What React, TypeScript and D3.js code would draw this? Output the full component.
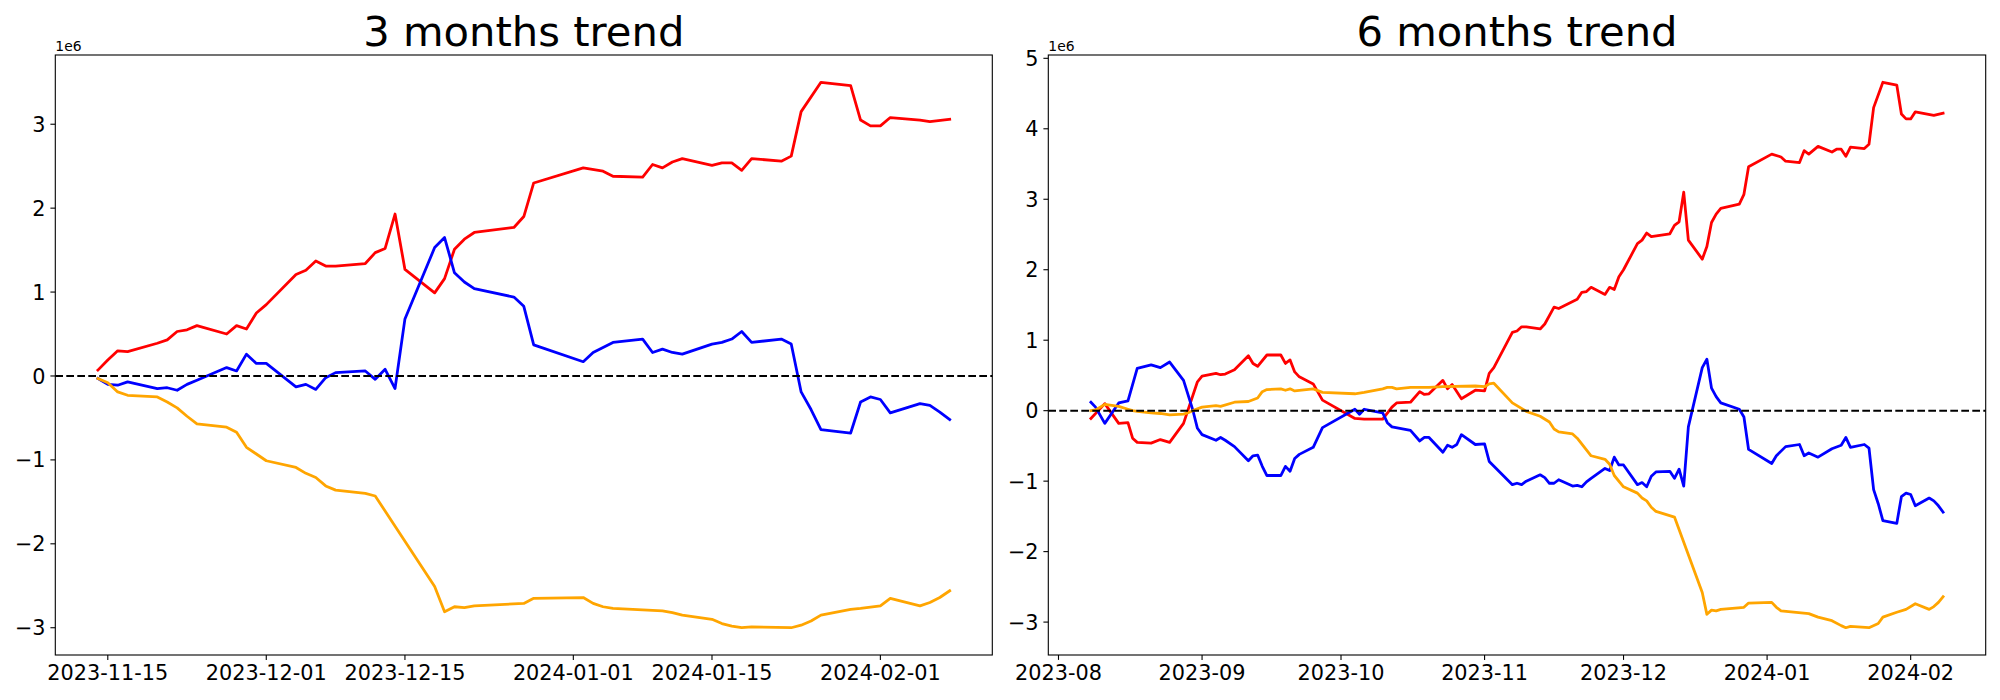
import * as d3 from "d3";
import { useEffect, useRef } from "react";

type Pt = [string, number];

// values in units of 1e6
const red3m: Pt[] = [
  ["2023-11-14", 0.07], ["2023-11-15", 0.19], ["2023-11-16", 0.3], ["2023-11-17", 0.29],
  ["2023-11-20", 0.39], ["2023-11-21", 0.43], ["2023-11-22", 0.53], ["2023-11-23", 0.55],
  ["2023-11-24", 0.6], ["2023-11-27", 0.5], ["2023-11-28", 0.6], ["2023-11-29", 0.56],
  ["2023-11-30", 0.75], ["2023-12-01", 0.85], ["2023-12-04", 1.21], ["2023-12-05", 1.26],
  ["2023-12-06", 1.37], ["2023-12-07", 1.31], ["2023-12-08", 1.31], ["2023-12-11", 1.34],
  ["2023-12-12", 1.47], ["2023-12-13", 1.52], ["2023-12-14", 1.93], ["2023-12-15", 1.27],
  ["2023-12-18", 0.99], ["2023-12-19", 1.16], ["2023-12-20", 1.51], ["2023-12-21", 1.63],
  ["2023-12-22", 1.71], ["2023-12-26", 1.77], ["2023-12-27", 1.9], ["2023-12-28", 2.3],
  ["2024-01-02", 2.48], ["2024-01-04", 2.44], ["2024-01-05", 2.38], ["2024-01-08", 2.37],
  ["2024-01-09", 2.52], ["2024-01-10", 2.48], ["2024-01-11", 2.55], ["2024-01-12", 2.59],
  ["2024-01-15", 2.51], ["2024-01-16", 2.54], ["2024-01-17", 2.54], ["2024-01-18", 2.45],
  ["2024-01-19", 2.59], ["2024-01-22", 2.56], ["2024-01-23", 2.62], ["2024-01-24", 3.15],
  ["2024-01-26", 3.5], ["2024-01-29", 3.46], ["2024-01-30", 3.05], ["2024-01-31", 2.98],
  ["2024-02-01", 2.98], ["2024-02-02", 3.08], ["2024-02-05", 3.05], ["2024-02-06", 3.03],
  ["2024-02-08", 3.06],
];

const blue3m: Pt[] = [
  ["2023-11-14", -0.03], ["2023-11-15", -0.1], ["2023-11-16", -0.11], ["2023-11-17", -0.07],
  ["2023-11-20", -0.15], ["2023-11-21", -0.14], ["2023-11-22", -0.17], ["2023-11-23", -0.1],
  ["2023-11-24", -0.05], ["2023-11-27", 0.1], ["2023-11-28", 0.06], ["2023-11-29", 0.26],
  ["2023-11-30", 0.15], ["2023-12-01", 0.15], ["2023-12-04", -0.13], ["2023-12-05", -0.1],
  ["2023-12-06", -0.16], ["2023-12-07", -0.02], ["2023-12-08", 0.04], ["2023-12-11", 0.06],
  ["2023-12-12", -0.04], ["2023-12-13", 0.08], ["2023-12-14", -0.15], ["2023-12-15", 0.68],
  ["2023-12-18", 1.53], ["2023-12-19", 1.65], ["2023-12-20", 1.23], ["2023-12-21", 1.12],
  ["2023-12-22", 1.04], ["2023-12-26", 0.94], ["2023-12-27", 0.83], ["2023-12-28", 0.37],
  ["2024-01-02", 0.17], ["2024-01-03", 0.28], ["2024-01-05", 0.4], ["2024-01-08", 0.44],
  ["2024-01-09", 0.28], ["2024-01-10", 0.32], ["2024-01-11", 0.28], ["2024-01-12", 0.26],
  ["2024-01-15", 0.38], ["2024-01-16", 0.4], ["2024-01-17", 0.44], ["2024-01-18", 0.53],
  ["2024-01-19", 0.4], ["2024-01-22", 0.44], ["2024-01-23", 0.38], ["2024-01-24", -0.19],
  ["2024-01-25", -0.4], ["2024-01-26", -0.64], ["2024-01-29", -0.68], ["2024-01-30", -0.31],
  ["2024-01-31", -0.25], ["2024-02-01", -0.28], ["2024-02-02", -0.44], ["2024-02-05", -0.33],
  ["2024-02-06", -0.35], ["2024-02-07", -0.43], ["2024-02-08", -0.52],
];

const orange3m: Pt[] = [
  ["2023-11-14", -0.03], ["2023-11-15", -0.08], ["2023-11-16", -0.19], ["2023-11-17", -0.23],
  ["2023-11-20", -0.25], ["2023-11-21", -0.31], ["2023-11-22", -0.38], ["2023-11-23", -0.48],
  ["2023-11-24", -0.57], ["2023-11-27", -0.61], ["2023-11-28", -0.67], ["2023-11-29", -0.85],
  ["2023-11-30", -0.93], ["2023-12-01", -1.01], ["2023-12-04", -1.09], ["2023-12-05", -1.16],
  ["2023-12-06", -1.21], ["2023-12-07", -1.31], ["2023-12-08", -1.36], ["2023-12-11", -1.4],
  ["2023-12-12", -1.43], ["2023-12-18", -2.51], ["2023-12-19", -2.81], ["2023-12-20", -2.75],
  ["2023-12-21", -2.76], ["2023-12-22", -2.74], ["2023-12-27", -2.71], ["2023-12-28", -2.65],
  ["2024-01-02", -2.64], ["2024-01-03", -2.71], ["2024-01-04", -2.75], ["2024-01-05", -2.77],
  ["2024-01-10", -2.8], ["2024-01-11", -2.82], ["2024-01-12", -2.85], ["2024-01-15", -2.9],
  ["2024-01-16", -2.95], ["2024-01-17", -2.98], ["2024-01-18", -3.0], ["2024-01-19", -2.99],
  ["2024-01-23", -3.0], ["2024-01-24", -2.97], ["2024-01-25", -2.92], ["2024-01-26", -2.85],
  ["2024-01-29", -2.78], ["2024-01-30", -2.77], ["2024-02-01", -2.74], ["2024-02-02", -2.65],
  ["2024-02-05", -2.74], ["2024-02-06", -2.7], ["2024-02-07", -2.64], ["2024-02-08", -2.56],
];

const red6m: Pt[] = [
  ["2023-08-08", -0.11], ["2023-08-11", 0.1], ["2023-08-14", -0.18], ["2023-08-16", -0.17],
  ["2023-08-17", -0.39], ["2023-08-18", -0.45], ["2023-08-21", -0.46], ["2023-08-23", -0.41],
  ["2023-08-25", -0.45], ["2023-08-28", -0.18], ["2023-08-31", 0.41], ["2023-09-01", 0.49],
  ["2023-09-04", 0.53], ["2023-09-05", 0.51], ["2023-09-06", 0.52], ["2023-09-08", 0.58],
  ["2023-09-11", 0.78], ["2023-09-12", 0.67], ["2023-09-13", 0.63], ["2023-09-15", 0.79],
  ["2023-09-18", 0.79], ["2023-09-19", 0.67], ["2023-09-20", 0.72], ["2023-09-21", 0.55],
  ["2023-09-22", 0.48], ["2023-09-25", 0.38], ["2023-09-27", 0.15], ["2023-10-04", -0.11],
  ["2023-10-06", -0.12], ["2023-10-10", -0.12], ["2023-10-12", 0.05], ["2023-10-13", 0.11],
  ["2023-10-16", 0.12], ["2023-10-18", 0.27], ["2023-10-19", 0.23], ["2023-10-20", 0.24],
  ["2023-10-23", 0.43], ["2023-10-24", 0.31], ["2023-10-25", 0.37], ["2023-10-27", 0.17],
  ["2023-10-30", 0.29], ["2023-11-01", 0.28], ["2023-11-02", 0.53], ["2023-11-03", 0.61],
  ["2023-11-07", 1.11], ["2023-11-08", 1.13], ["2023-11-09", 1.19], ["2023-11-10", 1.19],
  ["2023-11-13", 1.16], ["2023-11-14", 1.23], ["2023-11-16", 1.47], ["2023-11-17", 1.45],
  ["2023-11-21", 1.58], ["2023-11-22", 1.68], ["2023-11-23", 1.69], ["2023-11-24", 1.75],
  ["2023-11-27", 1.65], ["2023-11-28", 1.75], ["2023-11-29", 1.72], ["2023-11-30", 1.9],
  ["2023-12-01", 2.0], ["2023-12-04", 2.37], ["2023-12-05", 2.42], ["2023-12-06", 2.52],
  ["2023-12-07", 2.47], ["2023-12-11", 2.51], ["2023-12-12", 2.63], ["2023-12-13", 2.68],
  ["2023-12-14", 3.1], ["2023-12-15", 2.42], ["2023-12-18", 2.15], ["2023-12-19", 2.33],
  ["2023-12-20", 2.67], ["2023-12-21", 2.79], ["2023-12-22", 2.87], ["2023-12-26", 2.93],
  ["2023-12-27", 3.07], ["2023-12-28", 3.46], ["2024-01-02", 3.64], ["2024-01-04", 3.6],
  ["2024-01-05", 3.54], ["2024-01-08", 3.52], ["2024-01-09", 3.69], ["2024-01-10", 3.64],
  ["2024-01-12", 3.75], ["2024-01-15", 3.67], ["2024-01-16", 3.71], ["2024-01-17", 3.71],
  ["2024-01-18", 3.61], ["2024-01-19", 3.74], ["2024-01-22", 3.72], ["2024-01-23", 3.78],
  ["2024-01-24", 4.3], ["2024-01-26", 4.66], ["2024-01-29", 4.62], ["2024-01-30", 4.21],
  ["2024-01-31", 4.14], ["2024-02-01", 4.14], ["2024-02-02", 4.24], ["2024-02-06", 4.19],
  ["2024-02-08", 4.22],
];

const blue6m: Pt[] = [
  ["2023-08-08", 0.12], ["2023-08-09", 0.05], ["2023-08-11", -0.18], ["2023-08-14", 0.11],
  ["2023-08-16", 0.14], ["2023-08-18", 0.6], ["2023-08-21", 0.65], ["2023-08-23", 0.61],
  ["2023-08-25", 0.69], ["2023-08-28", 0.43], ["2023-08-29", 0.22], ["2023-08-30", 0.01],
  ["2023-08-31", -0.25], ["2023-09-01", -0.34], ["2023-09-04", -0.42], ["2023-09-05", -0.38],
  ["2023-09-06", -0.42], ["2023-09-08", -0.51], ["2023-09-11", -0.71], ["2023-09-12", -0.64],
  ["2023-09-13", -0.63], ["2023-09-14", -0.79], ["2023-09-15", -0.92], ["2023-09-18", -0.92],
  ["2023-09-19", -0.79], ["2023-09-20", -0.86], ["2023-09-21", -0.68], ["2023-09-22", -0.62],
  ["2023-09-25", -0.52], ["2023-09-27", -0.24], ["2023-10-04", 0.02], ["2023-10-05", -0.05],
  ["2023-10-06", 0.02], ["2023-10-10", -0.03], ["2023-10-11", -0.17], ["2023-10-12", -0.23],
  ["2023-10-16", -0.28], ["2023-10-18", -0.43], ["2023-10-19", -0.38], ["2023-10-20", -0.38],
  ["2023-10-23", -0.59], ["2023-10-24", -0.49], ["2023-10-25", -0.52], ["2023-10-26", -0.48],
  ["2023-10-27", -0.34], ["2023-10-30", -0.48], ["2023-11-01", -0.47], ["2023-11-02", -0.72],
  ["2023-11-07", -1.05], ["2023-11-08", -1.03], ["2023-11-09", -1.05], ["2023-11-10", -1.0],
  ["2023-11-13", -0.91], ["2023-11-14", -0.95], ["2023-11-15", -1.03], ["2023-11-16", -1.03],
  ["2023-11-17", -0.98], ["2023-11-20", -1.07], ["2023-11-21", -1.06], ["2023-11-22", -1.08],
  ["2023-11-23", -1.01], ["2023-11-24", -0.96], ["2023-11-27", -0.82], ["2023-11-28", -0.85],
  ["2023-11-29", -0.66], ["2023-11-30", -0.77], ["2023-12-01", -0.77], ["2023-12-04", -1.05],
  ["2023-12-05", -1.02], ["2023-12-06", -1.08], ["2023-12-07", -0.93], ["2023-12-08", -0.87],
  ["2023-12-11", -0.86], ["2023-12-12", -0.96], ["2023-12-13", -0.83], ["2023-12-14", -1.07],
  ["2023-12-15", -0.23], ["2023-12-18", 0.61], ["2023-12-19", 0.73], ["2023-12-20", 0.32],
  ["2023-12-21", 0.2], ["2023-12-22", 0.11], ["2023-12-26", 0.02], ["2023-12-27", -0.09],
  ["2023-12-28", -0.55], ["2024-01-02", -0.75], ["2024-01-03", -0.64], ["2024-01-05", -0.51],
  ["2024-01-08", -0.48], ["2024-01-09", -0.64], ["2024-01-10", -0.6], ["2024-01-12", -0.66],
  ["2024-01-15", -0.54], ["2024-01-17", -0.49], ["2024-01-18", -0.38], ["2024-01-19", -0.52],
  ["2024-01-22", -0.48], ["2024-01-23", -0.53], ["2024-01-24", -1.12], ["2024-01-25", -1.32],
  ["2024-01-26", -1.56], ["2024-01-29", -1.6], ["2024-01-30", -1.22], ["2024-01-31", -1.17],
  ["2024-02-01", -1.19], ["2024-02-02", -1.35], ["2024-02-05", -1.24], ["2024-02-06", -1.28],
  ["2024-02-07", -1.35], ["2024-02-08", -1.44],
];

const orange6m: Pt[] = [
  ["2023-08-08", 0.0], ["2023-08-09", 0.01], ["2023-08-11", 0.09], ["2023-08-14", 0.06],
  ["2023-08-16", 0.02], ["2023-08-17", 0.0], ["2023-08-18", -0.01], ["2023-08-21", -0.03],
  ["2023-08-23", -0.04], ["2023-08-25", -0.06], ["2023-08-28", -0.05], ["2023-08-29", -0.03],
  ["2023-08-30", 0.0], ["2023-09-01", 0.05], ["2023-09-04", 0.07], ["2023-09-05", 0.06],
  ["2023-09-08", 0.12], ["2023-09-11", 0.13], ["2023-09-13", 0.18], ["2023-09-14", 0.27],
  ["2023-09-15", 0.3], ["2023-09-18", 0.31], ["2023-09-19", 0.29], ["2023-09-20", 0.31],
  ["2023-09-21", 0.28], ["2023-09-25", 0.31], ["2023-09-27", 0.26], ["2023-10-04", 0.24],
  ["2023-10-06", 0.26], ["2023-10-10", 0.31], ["2023-10-11", 0.33], ["2023-10-12", 0.33],
  ["2023-10-13", 0.31], ["2023-10-16", 0.33], ["2023-10-18", 0.33], ["2023-10-20", 0.33],
  ["2023-10-23", 0.34], ["2023-10-30", 0.35], ["2023-11-01", 0.34], ["2023-11-02", 0.38],
  ["2023-11-03", 0.39], ["2023-11-07", 0.11], ["2023-11-10", -0.01], ["2023-11-13", -0.08],
  ["2023-11-15", -0.16], ["2023-11-16", -0.26], ["2023-11-17", -0.3], ["2023-11-20", -0.33],
  ["2023-11-21", -0.39], ["2023-11-24", -0.64], ["2023-11-27", -0.69], ["2023-11-28", -0.76],
  ["2023-11-29", -0.92], ["2023-12-01", -1.08], ["2023-12-04", -1.17], ["2023-12-05", -1.24],
  ["2023-12-06", -1.28], ["2023-12-07", -1.37], ["2023-12-08", -1.43], ["2023-12-12", -1.51],
  ["2023-12-18", -2.58], ["2023-12-19", -2.89], ["2023-12-20", -2.83], ["2023-12-21", -2.84],
  ["2023-12-22", -2.82], ["2023-12-27", -2.79], ["2023-12-28", -2.73], ["2024-01-02", -2.72],
  ["2024-01-03", -2.79], ["2024-01-04", -2.84], ["2024-01-10", -2.88], ["2024-01-12", -2.93],
  ["2024-01-15", -2.98], ["2024-01-17", -3.05], ["2024-01-18", -3.08], ["2024-01-19", -3.06],
  ["2024-01-23", -3.08], ["2024-01-25", -3.02], ["2024-01-26", -2.93], ["2024-01-29", -2.86],
  ["2024-01-31", -2.82], ["2024-02-02", -2.74], ["2024-02-05", -2.82], ["2024-02-06", -2.78],
  ["2024-02-07", -2.72], ["2024-02-08", -2.64],
];

const ticks3m = ["2023-11-15", "2023-12-01", "2023-12-15", "2024-01-01", "2024-01-15", "2024-02-01"];
const ticks6m = ["2023-08-01", "2023-09-01", "2023-10-01", "2023-11-01", "2023-12-01", "2024-01-01", "2024-02-01"];
const yTicks3m = [-3, -2, -1, 0, 1, 2, 3];
const yTicks6m = [-3, -2, -1, 0, 1, 2, 3, 4, 5];

const parse = d3.timeParse("%Y-%m-%d");
const FONT = "DejaVu Sans, sans-serif";

interface Panel {
  title: string;
  left: number;
  right: number;
  series: { data: Pt[]; color: string }[];
  xTicks: string[];
  xFmt: string;
  yTicks: number[];
}

function drawPanel(svg: d3.Selection<SVGSVGElement, unknown, null, undefined>, p: Panel) {
  const top = 55;
  const bottom = 655;
  const all = p.series.flatMap(s => s.data);
  const dates = all.map(d => parse(d[0])!.getTime());
  const vals = all.map(d => d[1]);

  // matplotlib-style 5% margins
  const [x0, x1] = d3.extent(dates) as [number, number];
  const [y0, y1] = d3.extent(vals) as [number, number];
  const mx = (x1 - x0) * 0.05;
  const my = (y1 - y0) * 0.05;

  const x = d3.scaleTime().domain([new Date(x0 - mx), new Date(x1 + mx)]).range([p.left, p.right]);
  const y = d3.scaleLinear().domain([y0 - my, y1 + my]).range([bottom, top]);

  const g = svg.append("g");

  const line = d3.line<Pt>()
    .x(d => x(parse(d[0])!))
    .y(d => y(d[1]));

  p.series.forEach(s => {
    g.append("path")
      .datum(s.data)
      .attr("d", line)
      .attr("fill", "none")
      .attr("stroke", s.color)
      .attr("stroke-width", 2.78)
      .attr("stroke-linejoin", "round")
      .attr("stroke-linecap", "square");
  });

  g.append("line")
    .attr("x1", p.left).attr("x2", p.right)
    .attr("y1", y(0)).attr("y2", y(0))
    .attr("stroke", "#000")
    .attr("stroke-width", 2.08)
    .attr("stroke-dasharray", "7.7,3.3");

  g.append("rect")
    .attr("x", p.left).attr("y", top)
    .attr("width", p.right - p.left).attr("height", bottom - top)
    .attr("fill", "none").attr("stroke", "#000").attr("stroke-width", 1.1);

  const fmtY = d3.format("d");
  const fmtX = d3.timeFormat(p.xFmt);

  p.yTicks.forEach(t => {
    const yy = y(t);
    g.append("line")
      .attr("x1", p.left - 4.9).attr("x2", p.left)
      .attr("y1", yy).attr("y2", yy)
      .attr("stroke", "#000").attr("stroke-width", 1.1);
    g.append("text")
      .attr("x", p.left - 9.7).attr("y", yy + 7.6)
      .attr("text-anchor", "end")
      .attr("font-family", FONT).attr("font-size", 20.8)
      .text(fmtY(t));
  });

  p.xTicks.forEach(t => {
    const xx = x(parse(t)!);
    g.append("line")
      .attr("x1", xx).attr("x2", xx)
      .attr("y1", bottom).attr("y2", bottom + 4.9)
      .attr("stroke", "#000").attr("stroke-width", 1.1);
    g.append("text")
      .attr("x", xx).attr("y", 680)
      .attr("text-anchor", "middle")
      .attr("font-family", FONT).attr("font-size", 20.8)
      .text(fmtX(parse(t)!));
  });

  g.append("text")
    .attr("x", p.left).attr("y", 50.7)
    .attr("font-family", FONT).attr("font-size", 13.9)
    .text("1e6");

  g.append("text")
    .attr("x", (p.left + p.right) / 2).attr("y", 46.3)
    .attr("text-anchor", "middle")
    .attr("font-family", FONT).attr("font-size", 41.7)
    .text(p.title);
}

export default function App() {
  const ref = useRef<SVGSVGElement>(null);

  useEffect(() => {
    const svg = d3.select(ref.current!);
    svg.selectAll("*").remove();
    svg.append("rect").attr("width", 2000).attr("height", 700).attr("fill", "#fff");

    drawPanel(svg, {
      title: "3 months trend",
      left: 55.3,
      right: 992.3,
      series: [
        { data: red3m, color: "red" },
        { data: blue3m, color: "blue" },
        { data: orange3m, color: "orange" },
      ],
      xTicks: ticks3m,
      xFmt: "%Y-%m-%d",
      yTicks: yTicks3m,
    });

    drawPanel(svg, {
      title: "6 months trend",
      left: 1048.3,
      right: 1985.7,
      series: [
        { data: red6m, color: "red" },
        { data: blue6m, color: "blue" },
        { data: orange6m, color: "orange" },
      ],
      xTicks: ticks6m,
      xFmt: "%Y-%m",
      yTicks: yTicks6m,
    });
  }, []);

  return (
    <div style={{ position: "absolute", left: 0, top: 0 }}>
      <svg ref={ref} width={2000} height={700} style={{ display: "block" }} />
    </div>
  );
}
